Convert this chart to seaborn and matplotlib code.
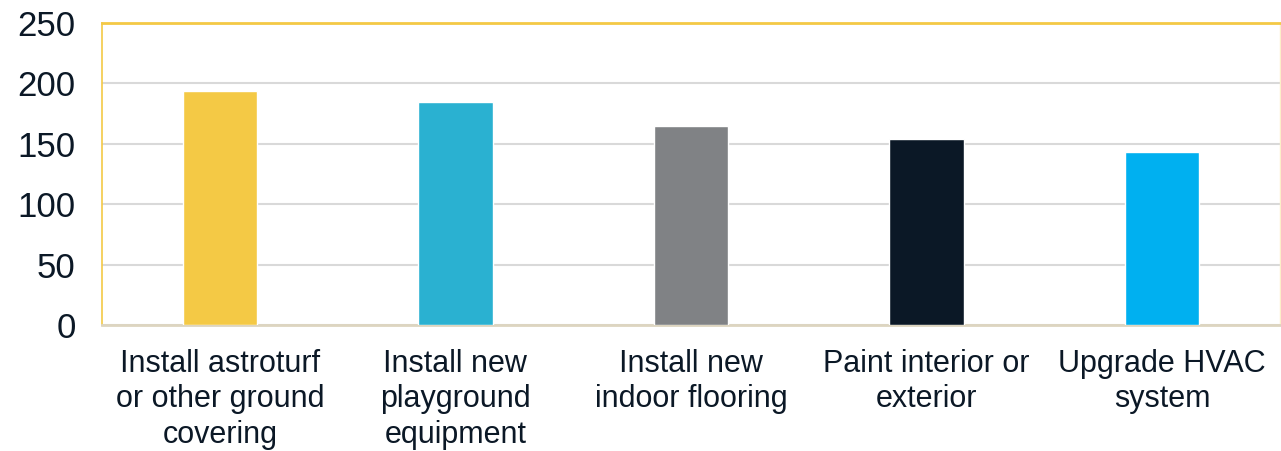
import matplotlib
matplotlib.use("Agg")
import matplotlib.pyplot as plt
import seaborn as sns
import pandas as pd

categories = ["Install astroturf\nor other ground\ncovering",
              "Install new\nplayground\nequipment",
              "Install new\nindoor flooring",
              "Paint interior or\nexterior",
              "Upgrade HVAC\nsystem"]
values = [194, 185, 165, 154, 143]
colors = ["#F4C945", "#2AB1D1", "#808285", "#0B1826", "#00B0F0"]
yticks = [0, 50, 100, 150, 200, 250]

sns.set_theme(style="white")
plt.rcParams['font.family'] = ['Liberation Sans', 'DejaVu Sans']

df = pd.DataFrame({"cat": categories, "val": values})
fig = plt.figure(figsize=(12.81, 4.51), dpi=100)
ax = fig.add_axes([102/1281, 1 - 325/451, (1280 - 102)/1281, (325 - 23)/451])
sns.barplot(data=df, x="cat", y="val", hue="cat", palette=colors, legend=False,
            width=0.315, saturation=1, ax=ax, zorder=3)
ax.set_ylim(0, 250)
ax.set_yticks(yticks)
ax.set_xlim(-0.5, 4.5)
ax.yaxis.grid(True, color="#D9D9D9", linewidth=1.5, zorder=0)
ax.set_axisbelow(True)
ax.set_xlabel("")
ax.set_ylabel("")
txtc = "#0B1826"
ax.tick_params(axis="y", labelsize=25, colors=txtc, length=0, pad=19)
ax.tick_params(axis="x", labelsize=22, colors=txtc, length=0, pad=17)
for lab in ax.get_xticklabels():
    lab.set_linespacing(1.25)
for s in ["top", "left"]:
    ax.spines[s].set_color("#F4C945")
ax.spines["top"].set_linewidth(2)
ax.spines["left"].set_linewidth(1.2)
ax.spines["right"].set_color("#FCEFC8")
ax.spines["right"].set_linewidth(1)
ax.spines["bottom"].set_color("#DDD5C0")
ax.spines["bottom"].set_linewidth(2)
fig.savefig("out.png", dpi=100)
